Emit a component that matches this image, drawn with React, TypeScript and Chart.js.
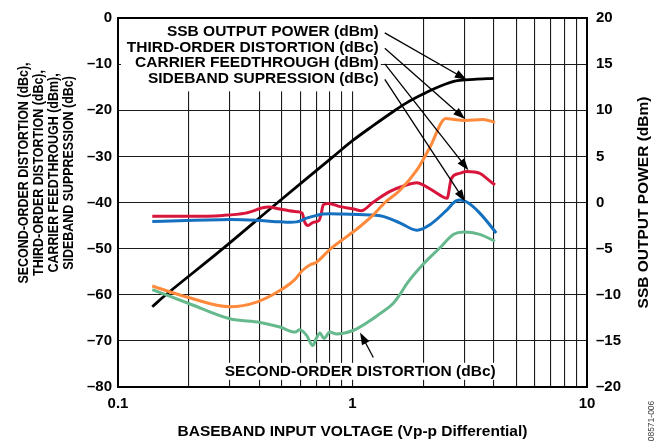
import React, { useEffect, useRef } from 'react';
import { Chart, registerables } from 'chart.js';

Chart.register(...registerables);

const FONT = '"Liberation Sans", Arial, Helvetica, sans-serif';

// ---- axes ----
const xTickValues = [0.1, 0.2, 0.3, 0.4, 0.5, 0.6, 0.7, 0.8, 0.9, 1, 2, 3, 4, 5, 6, 7, 8, 9, 10];
const xTickLabels = ['0.1', '1', '10'];
const leftTicks = [0, -10, -20, -30, -40, -50, -60, -70, -80];
const rightTicks = [20, 15, 10, 5, 0, -5, -10, -15, -20];

// ---- series (x = baseband input voltage, Vp-p) ----
// SSB output power (dBm, right axis)
const ssbX = [0.14, 0.16, 0.28, 0.48, 0.83, 1.0, 1.22, 1.52, 1.7, 2.0, 2.36, 2.8, 3.3, 4.0];
const ssbY = [-11.3, -10, -5, 0, 5, 6.7, 8.3, 10, 10.8, 11.75, 12.6, 13.2, 13.35, 13.45];

// Third-order distortion (dBc, left axis)
const thirdX = [0.14, 0.2, 0.3, 0.39, 0.49, 0.57, 0.61, 0.66, 0.7, 0.8, 0.945, 1.077, 1.22, 1.376, 1.59, 1.88, 2.14, 2.5, 2.7, 3.0, 3.6, 4.05];
const thirdY = [-58.1, -60.6, -62.6, -61.6, -59.1, -56.6, -54.8, -53.5, -53.0, -50.2, -47.4, -45.2, -42.8, -40.0, -37.4, -33.0, -28.0, -21.8, -22.0, -22.2, -22.0, -22.6];

// Carrier feedthrough (dBm, left axis)
const carrierX = [0.14, 0.2, 0.28, 0.35, 0.437, 0.49, 0.578, 0.61, 0.625, 0.645, 0.68, 0.72, 0.735, 0.75, 0.79, 0.885, 1.01, 1.09, 1.22, 1.445, 1.7, 1.88, 2.07, 2.36, 2.53, 2.64, 2.86, 3.07, 3.49, 3.8, 4.05];
const carrierY = [-43.0, -43.0, -42.8, -42.3, -41.0, -41.4, -42.0, -42.3, -44.2, -45.0, -44.3, -43.9, -42.5, -40.5, -40.2, -40.9, -41.4, -41.8, -40.0, -37.6, -36.2, -35.7, -36.6, -38.4, -39.1, -34.8, -33.7, -33.3, -33.7, -35.1, -36.2];

// Sideband suppression (dBc, left axis)
const sidebandX = [0.14, 0.3, 0.404, 0.49, 0.578, 0.637, 0.703, 0.75, 0.9, 1.19, 1.35, 1.59, 1.88, 2.14, 2.53, 2.78, 3.07, 3.49, 4.1];
const sidebandY = [-44.1, -43.7, -43.9, -44.2, -44.2, -43.4, -42.8, -42.5, -42.5, -42.7, -43.0, -44.4, -46.0, -44.8, -41.6, -39.6, -39.9, -42.3, -46.6];

// Second-order distortion (dBc, left axis)
const secondX = [0.14, 0.203, 0.3, 0.404, 0.49, 0.57, 0.595, 0.637, 0.677, 0.7, 0.727, 0.756, 0.8, 0.855, 1.01, 1.19, 1.3, 1.49, 1.6, 1.7, 2.0, 2.36, 2.7, 2.97, 3.49, 4.05];
const secondY = [-58.9, -62.0, -65.2, -66.0, -67.0, -68.1, -67.6, -68.8, -71.0, -69.5, -68.3, -69.5, -68.1, -68.5, -67.7, -65.6, -64.2, -61.9, -59.8, -57.7, -53.4, -49.8, -46.9, -46.4, -46.9, -48.4];

// ---- annotation texts ----
const legendTexts = [
  'SSB OUTPUT POWER (dBm)',
  'THIRD-ORDER DISTORTION (dBc)',
  'CARRIER FEEDTHROUGH (dBm)',
  'SIDEBAND SUPRESSION (dBc)',
];
const secondLabel = 'SECOND-ORDER DISTORTION (dBc)';
const leftTitleLines = [
  'SECOND-ORDER DISTORTION (dBc),',
  'THIRD-ORDER DISTORTION (dBc),',
  'CARRIER FEEDTHROUGH (dBm),',
  'SIDEBAND SUPPRESSION (dBc)',
];
const rightTitle = 'SSB OUTPUT POWER (dBm)';
const xTitle = 'BASEBAND INPUT VOLTAGE (Vp-p Differential)';
const figureId = '08571-006';

const COLORS = {
  ssb: '#000000',
  third: '#ff8a3c',
  carrier: '#d8163c',
  sideband: '#1570c0',
  second: '#66b98d',
};

const legendY = [-3.0, -6.35, -9.75, -13.1];

const fmtNum = (v: number) => (v < 0 ? '\u2013' + Math.abs(v) : String(v));
const pts = (xs: number[], ys: number[]) => xs.map((x, i) => ({ x, y: ys[i] }));

function arrow(ctx: CanvasRenderingContext2D, x0: number, y0: number, x1: number, y1: number) {
  const ang = Math.atan2(y1 - y0, x1 - x0);
  const hl = 12;
  const hw = 4.2;
  ctx.beginPath();
  ctx.moveTo(x0, y0);
  ctx.lineTo(x1 - Math.cos(ang) * hl * 0.8, y1 - Math.sin(ang) * hl * 0.8);
  ctx.stroke();
  ctx.beginPath();
  ctx.moveTo(x1, y1);
  ctx.lineTo(x1 - Math.cos(ang) * hl - Math.sin(ang) * hw, y1 - Math.sin(ang) * hl + Math.cos(ang) * hw);
  ctx.lineTo(x1 - Math.cos(ang) * hl + Math.sin(ang) * hw, y1 - Math.sin(ang) * hl - Math.cos(ang) * hw);
  ctx.closePath();
  ctx.fill();
}

const overlayPlugin = {
  id: 'overlay',
  beforeDatasetsDraw(chart: any) {
    const { ctx, chartArea: ca } = chart;
    const x = chart.scales.x;
    const y = chart.scales.y;
    ctx.save();
    // white panels behind annotations
    ctx.fillStyle = '#ffffff';
    const lx0 = ca.left + 3;
    const lx1 = x.getPixelForValue(1.32);
    ctx.fillRect(lx0, ca.top + 1, lx1 - lx0, y.getPixelForValue(-15.9) - ca.top - 1);
    ctx.font = `bold 15.5px ${FONT}`;
    const sw = ctx.measureText(secondLabel).width;
    const sRight = x.getPixelForValue(4.08);
    const sy = y.getPixelForValue(-76.6);
    ctx.fillRect(sRight - sw - 3, sy - 8.5, sw + 6, 17);

    // frame
    ctx.strokeStyle = '#000';
    ctx.lineWidth = 2;
    ctx.strokeRect(ca.left, ca.top, ca.right - ca.left, ca.bottom - ca.top);

    // texts
    ctx.fillStyle = '#000';
    ctx.textBaseline = 'middle';
    ctx.textAlign = 'right';
    legendTexts.forEach((t, i) => {
      ctx.fillText(t, lx1 - 2, y.getPixelForValue(legendY[i]));
    });
    ctx.fillText(secondLabel, sRight, sy);
    ctx.restore();
  },
  afterDatasetsDraw(chart: any) {
    const { ctx } = chart;
    const x = chart.scales.x;
    const y = chart.scales.y;
    ctx.save();
    ctx.strokeStyle = '#000';
    ctx.fillStyle = '#000';
    ctx.lineWidth = 1.3;
    const sx = x.getPixelForValue(1.32) + 4;
    const tips = [
      [3.07, -13.4],
      [3.02, -21.9],
      [3.12, -33.0],
      [3.02, -39.8],
    ];
    tips.forEach((t, i) => {
      arrow(ctx, sx, y.getPixelForValue(legendY[i]) + 1, x.getPixelForValue(t[0]), y.getPixelForValue(t[1]));
    });
    arrow(ctx, x.getPixelForValue(1.227), y.getPixelForValue(-73.6), x.getPixelForValue(1.077), y.getPixelForValue(-68.2));
    ctx.restore();
  },
  afterDraw(chart: any) {
    const { ctx, chartArea: ca } = chart;
    ctx.save();
    ctx.fillStyle = '#000';
    ctx.textAlign = 'center';
    ctx.textBaseline = 'middle';
    ctx.font = `bold 15.5px ${FONT}`;
    ctx.fillText(xTitle, (ca.left + ca.right) / 2, 432);

    // right title
    ctx.save();
    ctx.translate(644, (ca.top + ca.bottom) / 2);
    ctx.rotate(-Math.PI / 2);
    ctx.fillText(rightTitle, 0, 0);
    ctx.restore();

    // left title (condensed)
    ctx.font = `bold 15px ${FONT}`;
    const cols = [24, 39, 54, 69];
    leftTitleLines.forEach((t, i) => {
      ctx.save();
      ctx.translate(cols[i], 173);
      ctx.rotate(-Math.PI / 2);
      ctx.scale(0.83, 1);
      ctx.fillText(t, 0, 0);
      ctx.restore();
    });

    // figure id
    ctx.font = `8.5px ${FONT}`;
    ctx.fillStyle = '#444';
    ctx.save();
    ctx.translate(652, 421);
    ctx.rotate(-Math.PI / 2);
    ctx.fillText(figureId, 0, 0);
    ctx.restore();
    ctx.restore();
  },
};

export default function App() {
  const ref = useRef<HTMLCanvasElement>(null);
  useEffect(() => {
    if (!ref.current) return;
    const tickFont = { family: FONT, size: 15, weight: 'bold' as const };
    const line = (label: string, data: any, color: string, axis: string, width: number, smooth: boolean) => ({
      label,
      data,
      borderColor: color,
      backgroundColor: color,
      borderWidth: width,
      pointRadius: 0,
      fill: false,
      tension: smooth ? 0.35 : 0.4,
      cubicInterpolationMode: smooth ? ('default' as const) : ('monotone' as const),
      yAxisID: axis,
    });
    const chart = new Chart(ref.current, {
      type: 'line',
      data: {
        datasets: [
          line('SECOND-ORDER DISTORTION (dBc)', pts(secondX, secondY), COLORS.second, 'y', 3, false),
          line('THIRD-ORDER DISTORTION (dBc)', pts(thirdX, thirdY), COLORS.third, 'y', 3, false),
          line('SIDEBAND SUPRESSION (dBc)', pts(sidebandX, sidebandY), COLORS.sideband, 'y', 3, true),
          line('CARRIER FEEDTHROUGH (dBm)', pts(carrierX, carrierY), COLORS.carrier, 'y', 3, false),
          line('SSB OUTPUT POWER (dBm)', pts(ssbX, ssbY), COLORS.ssb, 'y2', 2.8, true),
        ],
      },
      options: {
        animation: false,
        responsive: false,
        maintainAspectRatio: false,
        devicePixelRatio: 1,
        parsing: false,
        layout: { padding: { top: 15, left: 0, right: 0, bottom: 0 } },
        plugins: { legend: { display: false }, tooltip: { enabled: false }, title: { display: false } },
        scales: {
          x: {
            type: 'logarithmic',
            position: 'bottom',
            min: 0.1,
            max: 10,
            afterBuildTicks: (s: any) => {
              s.ticks = xTickValues.map((v) => ({ value: v }));
            },
            afterFit: (s: any) => {
              s.height = 55;
            },
            ticks: {
              autoSkip: false,
              maxRotation: 0,
              minRotation: 0,
              padding: 8,
              color: '#000',
              font: tickFont,
              callback: (v: any) => {
                const s = String(Number(v));
                return xTickLabels.includes(s) ? s : '';
              },
            },
            grid: { color: '#1a1a1a', lineWidth: 1.1, drawTicks: false },
            border: { display: true, color: '#000', width: 2 },
          },
          y: {
            type: 'linear',
            position: 'left',
            min: -80,
            max: 0,
            afterBuildTicks: (s: any) => {
              s.ticks = leftTicks.map((v) => ({ value: v }));
            },
            afterFit: (s: any) => {
              s.width = 118;
            },
            ticks: { padding: 6, color: '#000', font: tickFont, callback: (v: any) => fmtNum(Number(v)) },
            grid: { color: '#1a1a1a', lineWidth: 1.1, drawTicks: false },
            border: { display: true, color: '#000', width: 2 },
          },
          y2: {
            type: 'linear',
            position: 'right',
            min: -20,
            max: 20,
            afterBuildTicks: (s: any) => {
              s.ticks = rightTicks.map((v) => ({ value: v }));
            },
            afterFit: (s: any) => {
              s.width = 70;
            },
            ticks: { padding: 9, color: '#000', font: tickFont, callback: (v: any) => fmtNum(Number(v)) },
            grid: { display: false, drawTicks: false },
            border: { display: true, color: '#000', width: 2 },
          },
        },
      } as any,
      plugins: [overlayPlugin],
    });
    return () => chart.destroy();
  }, []);
  return (
    <div style={{ position: 'absolute', left: 0, top: 0, width: 657, height: 442, background: '#fff' }}>
      <canvas ref={ref} width={657} height={442} style={{ width: 657, height: 442, display: 'block' }} />
    </div>
  );
}
